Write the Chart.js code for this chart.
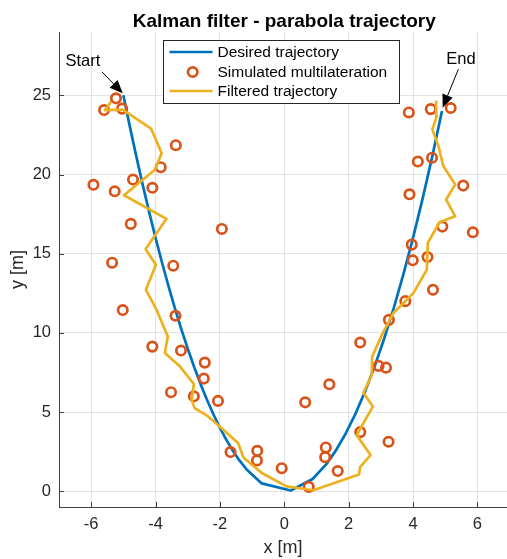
<!DOCTYPE html>
<html lang="en">
  <head>
    <meta charset="UTF-8" />
    <title>Kalman filter - parabola trajectory</title>
    <script src="https://cdn.jsdelivr.net/npm/chart.js"></script>
    <style>
      body { margin: 0; background: #fff; }
      #wrap { width: 507px; height: 559px; }
    </style>
  </head>
  <body>
    <div id="wrap"><canvas id="myChart" width="507" height="559"></canvas></div>
<script>
// desired trajectory (parabola)
const desiredX = [-5.0, -4.8, -4.6, -4.4, -4.2, -4.0, -3.8, -3.6, -3.4, -3.2, -3.0, -2.8, -2.6, -2.4, -2.2, -2.0, -1.8, -1.6, -1.4, -1.17, -0.70, 0.2, 0.88, 1.3, 1.6, 1.9, 2.2, 2.5, 2.8, 3.1, 3.4, 3.7, 4.0, 4.3, 4.6, 4.9];
const desiredY = [25.0, 23.04, 21.16, 19.36, 17.64, 16.0, 14.44, 12.96, 11.56, 10.24, 9.0, 7.84, 6.76, 5.76, 4.84, 4.0, 3.24, 2.56, 1.96, 1.37, 0.49, 0.04, 0.77, 1.69, 2.56, 3.61, 4.84, 6.25, 7.84, 9.61, 11.56, 13.69, 16.0, 18.49, 21.16, 24.01];

// simulated multilateration
const measX = [-5.23, -5.60, -5.04, -3.37, -3.84, -5.93, -4.70, -5.27, -4.10, -4.77, -1.94, -5.35, -3.45, -5.02, -3.38, -4.10, -3.21, -2.47, -2.50, -3.52, -2.81, -2.06, -1.67, -0.84, -0.85, -0.08, 0.76, 0.65, 1.40, 1.29, 1.27, 1.66, 2.36, 2.36, 3.24, 2.93, 3.16, 3.25, 3.76, 4.62, 3.99, 4.45, 3.96, 4.91, 5.86, 3.89, 5.56, 4.15, 4.59, 3.87, 4.55, 5.17];
const measY = [24.81, 24.07, 24.16, 21.85, 20.46, 19.35, 19.68, 18.94, 19.16, 16.88, 16.56, 14.43, 14.24, 11.44, 11.08, 9.13, 8.88, 8.12, 7.11, 6.25, 5.99, 5.70, 2.47, 2.55, 1.94, 1.45, 0.27, 5.61, 6.75, 2.76, 2.15, 1.27, 9.39, 3.73, 3.12, 7.91, 7.80, 10.82, 12.0, 12.72, 14.58, 14.79, 15.57, 16.71, 16.35, 18.75, 19.30, 20.82, 21.06, 23.92, 24.13, 24.20];

// filtered trajectory
const filtX = [-5.38, -5.57, -5.02, -4.14, -3.81, -4.02, -4.98, -3.66, -4.31, -3.99, -4.30, -3.97, -3.62, -3.71, -3.24, -2.81, -2.88, -2.78, -2.41, -2.00, -1.43, -1.27, -0.70, 0.07, 0.90, 2.32, 2.36, 2.68, 2.25, 2.75, 2.46, 2.72, 2.73, 3.06, 3.39, 4.01, 4.43, 4.46, 4.82, 5.31, 5.03, 5.31, 4.94, 4.79, 4.60, 4.74, 4.72];
const filtY = [24.6, 24.07, 24.1, 22.9, 21.35, 20.3, 18.69, 17.2, 15.30, 14.3, 12.72, 11.46, 9.77, 8.72, 7.87, 6.77, 5.76, 5.23, 4.79, 4.07, 3.02, 2.13, 1.15, 0.30, 0.06, 1.05, 1.54, 2.28, 3.54, 5.34, 6.22, 7.34, 8.50, 9.98, 11.25, 12.51, 13.99, 15.68, 16.98, 17.36, 18.42, 19.37, 20.53, 21.79, 22.85, 23.69, 24.68];

const xTicks = [-6, -4, -2, 0, 2, 4, 6];
const yTicks = [0, 5, 10, 15, 20, 25];

const seriesNames = ["Desired trajectory", "Simulated multilateration", "Filtered trajectory"];
const titleText = "Kalman filter - parabola trajectory";

// annotation arrows: [tailX, tailY, tipX, tipY], text anchor
const startArrow = [-5.66, 26.47, -5.02, 25.13];
const startLabel = [-6.26, 27.13];
const endArrow = [5.41, 26.65, 4.92, 24.22];
const endLabel = [5.49, 27.28];

const FONT = "'Liberation Sans', Arial, Helvetica, sans-serif";
const AXIS = "#404040";

function pts(xs, ys) {
  return xs.map((x, i) => ({ x: x, y: ys[i] }));
}

// title, legend, start/end arrows, inward tick marks
const extras = {
  id: "extras",
  beforeDatasetsDraw(chart) {
    const ctx = chart.ctx, a = chart.chartArea;
    const xs = chart.scales.x, ys = chart.scales.y;
    ctx.save();
    ctx.strokeStyle = AXIS;
    ctx.lineWidth = 1;
    ctx.beginPath();
    xTicks.forEach(v => {
      const px = Math.round(xs.getPixelForValue(v)) + 0.5;
      ctx.moveTo(px, a.bottom);
      ctx.lineTo(px, a.bottom - 5);
    });
    yTicks.forEach(v => {
      const py = Math.round(ys.getPixelForValue(v)) + 0.5;
      ctx.moveTo(a.left, py);
      ctx.lineTo(a.left + 5, py);
    });
    ctx.stroke();
    ctx.restore();
  },
  afterDraw(chart) {
    const ctx = chart.ctx;
    const xs = chart.scales.x, ys = chart.scales.y;
    ctx.save();

    // title
    ctx.fillStyle = "#000";
    ctx.font = "bold 19px " + FONT;
    ctx.textAlign = "center";
    ctx.textBaseline = "alphabetic";
    ctx.fillText(titleText, xs.getPixelForValue(0), 27);

    // arrows
    function arrow(def, lab, text) {
      const x0 = xs.getPixelForValue(def[0]), y0 = ys.getPixelForValue(def[1]);
      const x1 = xs.getPixelForValue(def[2]), y1 = ys.getPixelForValue(def[3]);
      const ang = Math.atan2(y1 - y0, x1 - x0);
      const len = 13, hw = 5.5;
      const bx = x1 - len * Math.cos(ang), by = y1 - len * Math.sin(ang);
      ctx.strokeStyle = "#000";
      ctx.lineWidth = 1;
      ctx.beginPath();
      ctx.moveTo(x0, y0);
      ctx.lineTo(bx, by);
      ctx.stroke();
      ctx.fillStyle = "#000";
      ctx.beginPath();
      ctx.moveTo(x1, y1);
      ctx.lineTo(bx + hw * Math.sin(ang), by - hw * Math.cos(ang));
      ctx.lineTo(bx - hw * Math.sin(ang), by + hw * Math.cos(ang));
      ctx.closePath();
      ctx.fill();
      ctx.font = "16.5px " + FONT;
      ctx.textAlign = "center";
      ctx.textBaseline = "middle";
      ctx.fillText(text, xs.getPixelForValue(lab[0]), ys.getPixelForValue(lab[1]));
    }
    arrow(startArrow, startLabel, "Start");
    arrow(endArrow, endLabel, "End");

    // legend
    const bx = 163.5, by = 40.5, bw = 236, bh = 63;
    ctx.fillStyle = "#fff";
    ctx.fillRect(bx, by, bw, bh);
    ctx.strokeStyle = "#262626";
    ctx.lineWidth = 1;
    ctx.strokeRect(bx, by, bw, bh);
    const rows = [52, 72, 91];
    const ds = chart.data.datasets;
    ctx.font = "15.5px " + FONT;
    ctx.textAlign = "left";
    ctx.textBaseline = "middle";
    rows.forEach((ry, i) => {
      const d = ds[i];
      ctx.strokeStyle = d.borderColor;
      ctx.lineWidth = 2.7;
      ctx.beginPath();
      if (i === 1) {
        ctx.arc(192.7, ry, 4.7, 0, Math.PI * 2);
      } else {
        ctx.moveTo(169.5, ry);
        ctx.lineTo(212.5, ry);
      }
      ctx.stroke();
      ctx.fillStyle = "#000";
      ctx.fillText(seriesNames[i], 217.5, ry + 1);
    });
    ctx.restore();
  }
};

new Chart(document.getElementById("myChart"), {
  type: "scatter",
  data: {
    datasets: [
      {
        label: seriesNames[0],
        data: pts(desiredX, desiredY),
        showLine: true,
        borderColor: "#0072BD",
        borderWidth: 2.7,
        pointRadius: 0,
        borderJoinStyle: "round",
        order: 3
      },
      {
        label: seriesNames[1],
        data: pts(measX, measY),
        showLine: false,
        borderColor: "#D95319",
        backgroundColor: "rgba(0,0,0,0)",
        borderWidth: 2.7,
        pointRadius: 4.7,
        order: 2
      },
      {
        label: seriesNames[2],
        data: pts(filtX, filtY),
        showLine: true,
        borderColor: "#EDB120",
        borderWidth: 2.7,
        pointRadius: 0,
        borderJoinStyle: "round",
        order: 1
      }
    ]
  },
  options: {
    responsive: false,
    animation: false,
    layout: { autoPadding: false, padding: { top: 32, left: 0, right: 0, bottom: 0 } },
    plugins: {
      legend: { display: false },
      title: { display: false },
      tooltip: { enabled: false }
    },
    scales: {
      x: {
        type: "linear",
        min: -7,
        max: 6.92,
        afterBuildTicks: s => { s.ticks = xTicks.map(v => ({ value: v })); },
        afterFit: s => { s.height = 52; s.paddingLeft = 0; s.paddingRight = 0; },
        grid: { color: "#e3e3e3", drawTicks: false },
        border: { color: AXIS, width: 1 },
        ticks: { color: "#262626", padding: 8, maxRotation: 0, font: { family: FONT, size: 16.5 } },
        title: { display: true, text: "x [m]", color: "#262626", padding: { top: 0, bottom: 0 }, font: { family: FONT, size: 18 } }
      },
      y: {
        type: "linear",
        min: -1,
        max: 29,
        afterBuildTicks: s => { s.ticks = yTicks.map(v => ({ value: v })); },
        afterFit: s => { s.width = 59; s.paddingTop = 0; s.paddingBottom = 0; },
        grid: { color: "#e3e3e3", drawTicks: false },
        border: { color: AXIS, width: 1 },
        ticks: { color: "#262626", padding: 8, font: { family: FONT, size: 16.5 } },
        title: { display: true, text: "y [m]", color: "#262626", padding: { top: 7, bottom: 0 }, font: { family: FONT, size: 18 } }
      }
    }
  },
  plugins: [extras]
});
</script>
  </body>
</html>
